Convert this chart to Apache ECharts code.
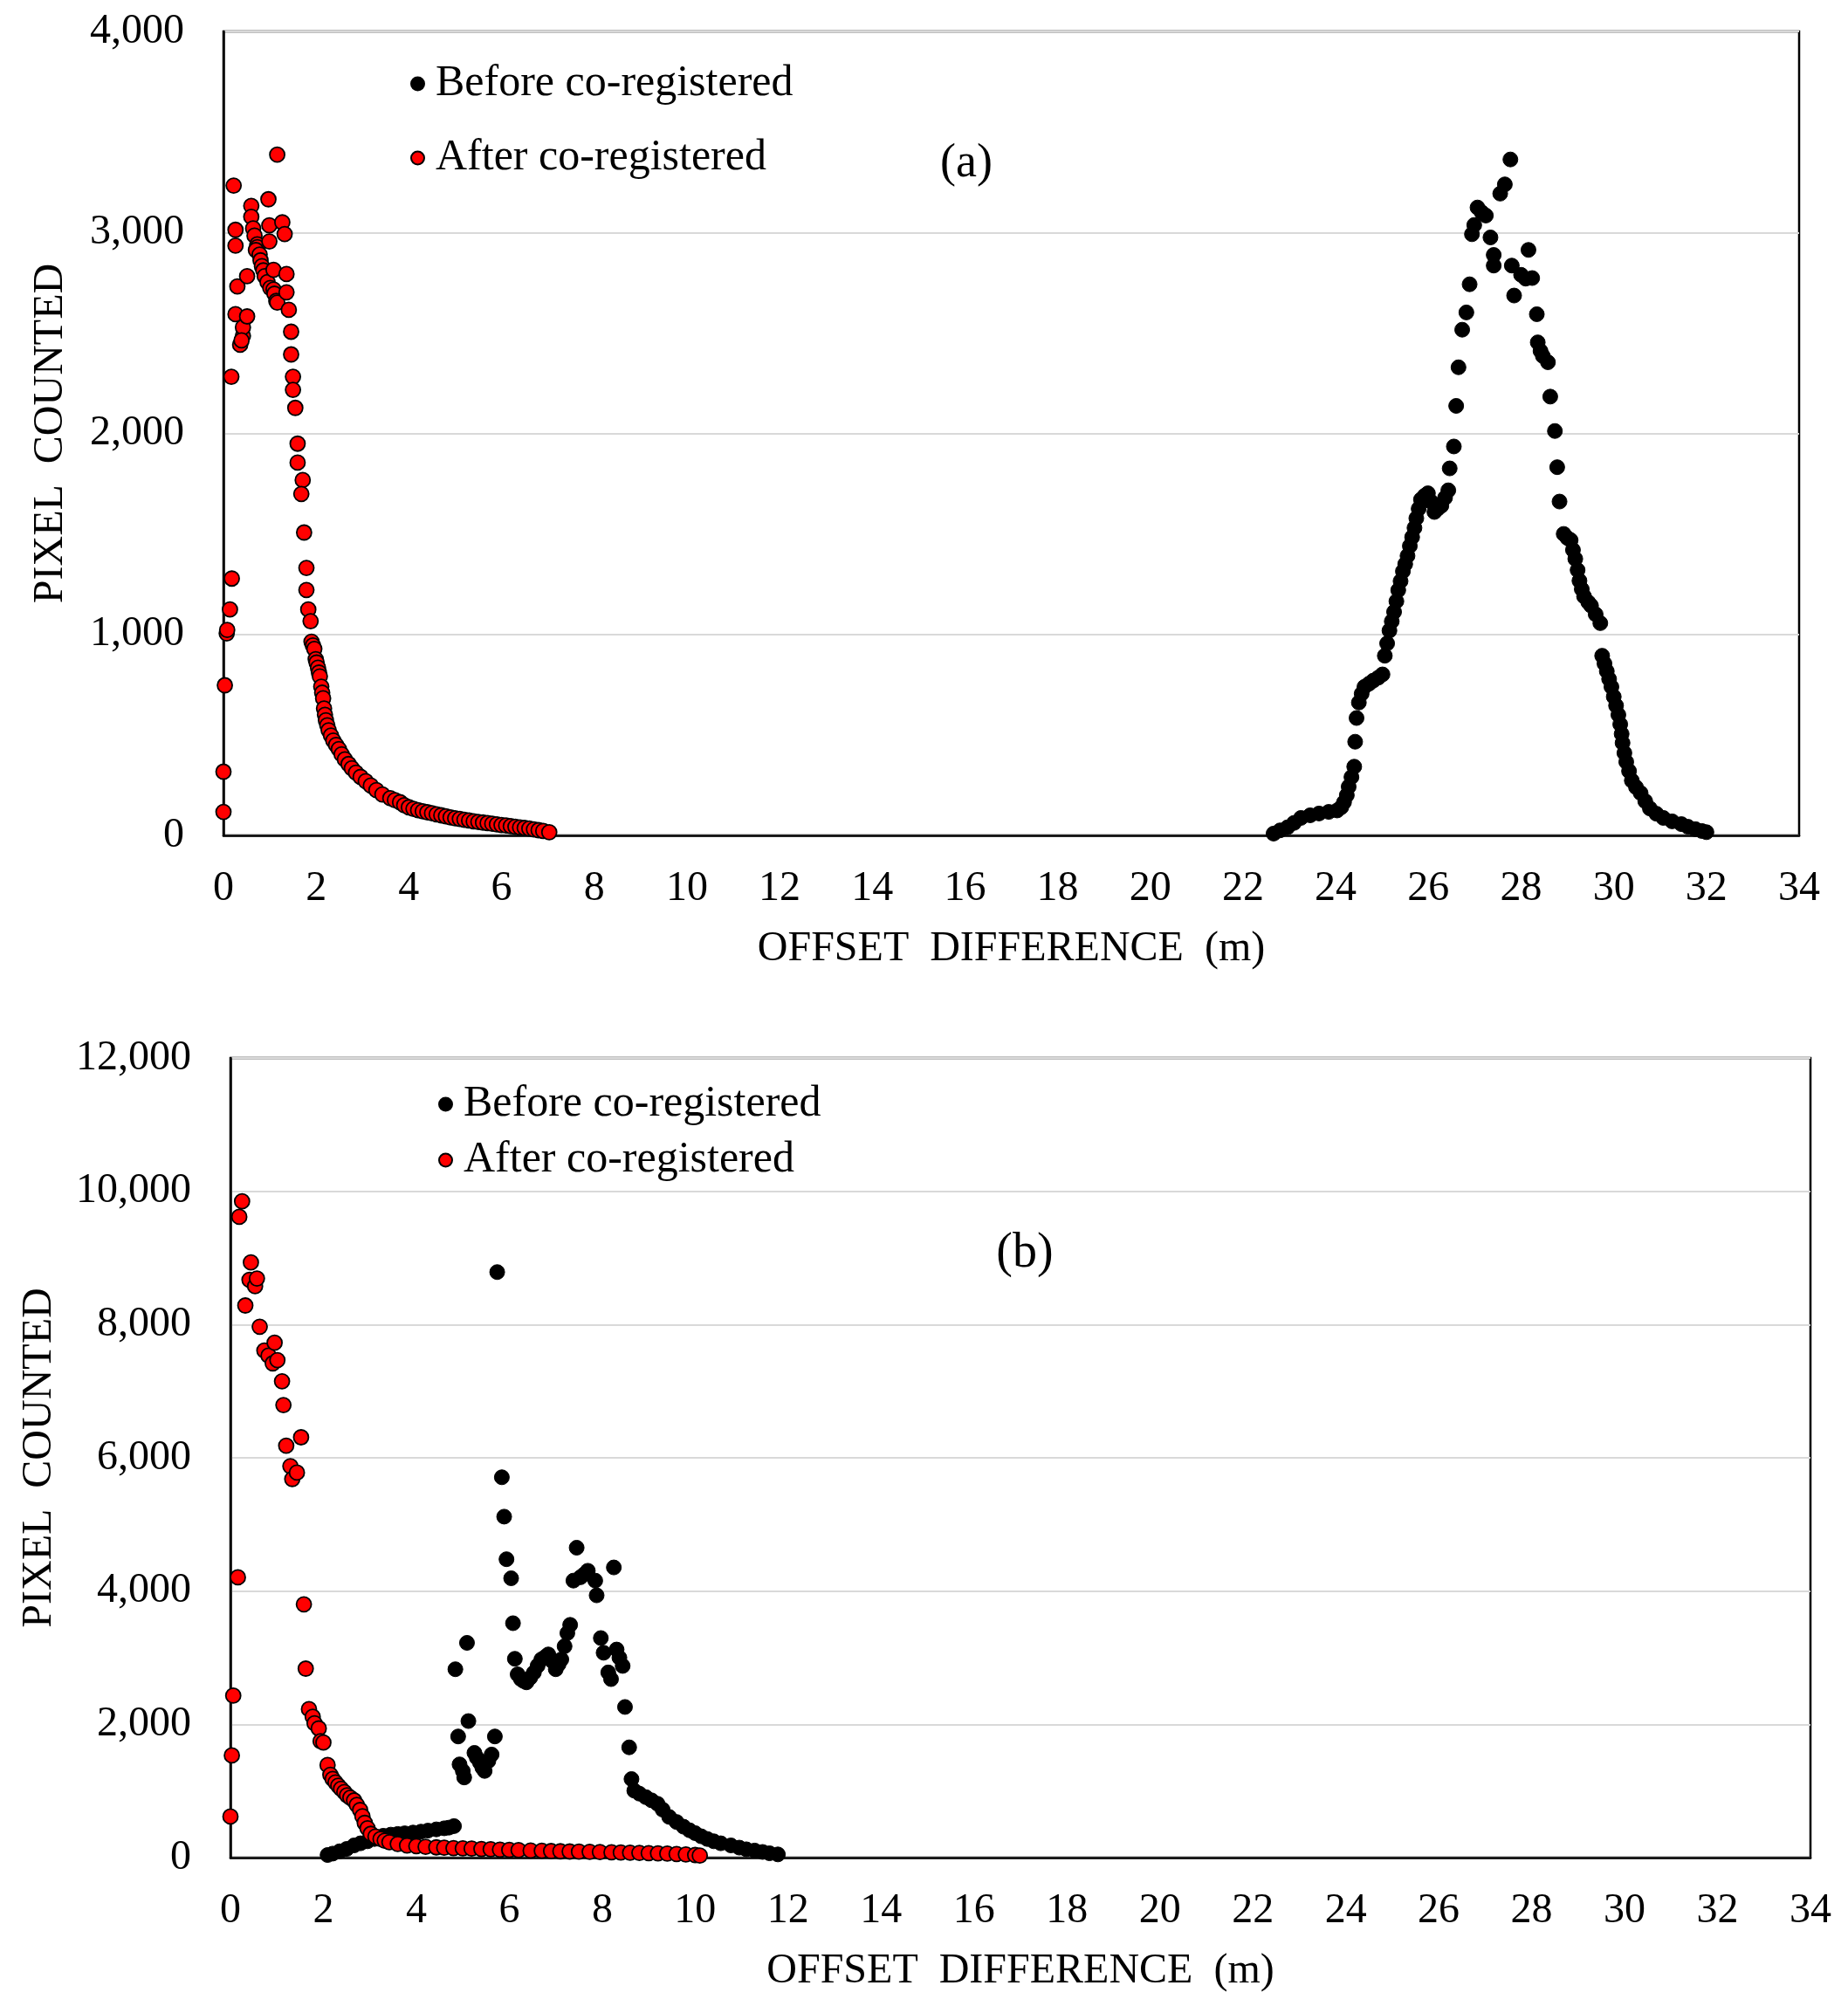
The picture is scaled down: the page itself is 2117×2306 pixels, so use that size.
<!DOCTYPE html>
<html>
<head>
<meta charset="utf-8">
<script src="https://cdn.jsdelivr.net/npm/echarts@6/dist/echarts.min.js"></script>
<style>
  html, body { margin: 0; padding: 0; background: #fff; }
  #chart { width: 2117px; height: 2306px; }
</style>
</head>
<body>
<div id="chart"></div>
<script>
// values, [offset difference (m), pixel count]
var seriesNames = ['Before co-registered', 'After co-registered'];
var xTicks = { min: 0, max: 34, interval: 2 };

// (a) before co-registration
var topBefore = [
  [22.66,9],[22.8,25],[22.96,40],[23.1,62],[23.25,87],[23.45,100],[23.64,109],[23.85,117],[24.03,124],[24.12,140],
  [24.18,165],[24.24,200],[24.28,242],[24.34,290],[24.40,342],[24.42,466],[24.45,584],[24.50,661],[24.56,705],[24.62,739],
  [24.72,755],[24.81,770],[24.92,785],[25.01,801],[25.06,894],[25.11,955],[25.16,1019],[25.21,1065],[25.26,1112],[25.31,1165],
  [25.35,1220],[25.40,1265],[25.45,1314],[25.50,1350],[25.55,1391],[25.60,1440],[25.65,1484],[25.70,1530],[25.74,1578],[25.79,1625],
  [25.84,1671],[25.92,1690],[25.99,1702],[26.06,1660],[26.13,1609],[26.2,1625],[26.28,1640],[26.36,1680],[26.43,1717],[26.46,1826],
  [26.55,1935],[26.60,2137],[26.65,2329],[26.73,2516],[26.82,2602],[26.89,2742],[26.94,2991],[26.99,3037],[27.06,3124],[27.15,3100],
  [27.24,3084],[27.34,2975],[27.41,2888],[27.41,2835],[27.55,3193],[27.65,3239],[27.77,3363],[27.80,2835],[27.85,2686],[28.00,2789],
  [28.10,2770],[28.16,2913],[28.24,2773],[28.34,2593],[28.36,2453],[28.42,2410],[28.47,2385],[28.58,2354],[28.63,2183],[28.73,2012],
  [28.78,1832],[28.83,1661],[28.92,1500],[29.0,1480],[29.07,1469],[29.12,1420],[29.17,1376],[29.22,1320],[29.26,1267],[29.31,1225],
  [29.36,1189],[29.45,1160],[29.51,1143],[29.61,1100],[29.71,1056],[29.75,894],[29.80,855],[29.85,817],[29.90,778],[29.95,739],
  [30.0,690],[30.05,646],[30.10,600],[30.14,553],[30.17,505],[30.19,460],[30.23,410],[30.27,366],[30.33,320],[30.39,273],
  [30.48,240],[30.58,211],[30.68,170],[30.78,134],[30.92,108],[31.07,87],[31.26,70],[31.46,56],[31.6,43],[31.76,31],
  [31.9,22],[32.0,16]
];

// (a) after co-registration
var topAfter = [
  [0.00,117],[0.00,317],[0.03,747],[0.07,1005],[0.08,1022],[0.14,1124],[0.18,1278],[0.17,2282],[0.22,3233],[0.26,3013],
  [0.26,2934],[0.26,2593],[0.30,2731],[0.36,2441],[0.42,2485],[0.42,2528],[0.39,2463],[0.51,2582],[0.51,2782],[0.60,3132],
  [0.60,3078],[0.64,3020],[0.67,2984],[0.73,2941],[0.73,2927],[0.70,2912],[0.78,2890],[0.80,2861],[0.83,2832],[0.86,2811],
  [0.89,2782],[0.95,2753],[0.97,3165],[0.99,3035],[0.99,2955],[1.01,2724],[1.08,2814],[1.08,2716],[1.10,2695],[1.14,2659],
  [1.16,3387],[1.16,2651],[1.27,3050],[1.32,2992],[1.36,2793],[1.36,2702],[1.41,2615],[1.46,2506],[1.46,2393],[1.50,2282],
  [1.50,2217],[1.55,2127],[1.60,1949],[1.60,1855],[1.71,1768],[1.68,1699],[1.74,1507],[1.79,1331],[1.79,1221],[1.83,1124],
  [1.88,1066],[1.90,964],[1.93,945],[1.96,928],[1.99,877],[2.01,860],[2.04,834],[2.06,810],[2.08,791],[2.11,740],
  [2.13,710],[2.15,682],[2.17,631],[2.19,600],[2.21,573],[2.24,548],[2.27,523],[2.32,497],[2.37,472],[2.43,450],
  [2.49,429],[2.55,403],[2.62,378],[2.70,355],[2.77,334],[2.86,312],[2.96,291],[3.07,270],[3.18,248],[3.30,225],
  [3.43,204],[3.60,185],[3.7,175],[3.81,165],[3.9,150],[4.0,140],[4.1,132],[4.2,125],[4.3,120],[4.4,115],
  [4.5,110],[4.6,105],[4.7,100],[4.8,95],[4.9,90],[5.0,85],[5.1,82],[5.2,78],[5.3,74],[5.4,70],
  [5.5,67],[5.6,64],[5.7,61],[5.8,58],[5.9,55],[6.0,52],[6.1,49],[6.2,46],[6.3,43],[6.4,40],
  [6.5,37],[6.6,34],[6.7,30],[6.8,26],[6.9,22],[7.03,16]
];

// (b) before co-registration
var bottomBefore = [
  [2.09,39],[2.2,60],[2.35,95],[2.5,130],[2.66,183],[2.8,215],[2.95,245],[3.1,280],[3.29,328],[3.45,345],
  [3.6,355],[3.75,365],[3.93,376],[4.1,390],[4.25,405],[4.43,424],[4.6,440],[4.7,450],[4.81,473],
  [4.84,2827],[5.09,3223],[5.12,2049],[4.90,1818],[4.93,1399],[5.03,1203],[5.0,1300],[5.25,1572],[5.30,1500],[5.37,1424],
  [5.47,1301],[5.42,1350],[5.62,1547],[5.69,1818],[5.55,1450],
  [5.74,8787],[5.84,5708],[5.89,5117],[5.94,4478],[6.04,4192],[6.08,3518],[6.12,2984],[6.18,2750],[6.25,2679],[6.31,2650],
  [6.37,2630],[6.45,2700],[6.53,2777],[6.61,2880],[6.69,2974],[6.77,3010],[6.84,3049],[6.92,2950],[7.00,2827],[7.06,2900],
  [7.12,2974],[7.19,3172],[7.25,3370],[7.31,3493],[7.38,4157],[7.45,4651],[7.53,4207],[7.61,4250],[7.69,4305],[7.85,4157],
  [7.88,3936],[7.97,3295],[8.03,3074],[8.13,2779],[8.19,2679],[8.25,4355],[8.31,3123],[8.37,3000],[8.44,2877],[8.49,2261],
  [8.58,1655],[8.63,1179],[8.69,1005],[8.8,960],[8.94,907],[9.06,860],[9.19,808],[9.3,720],[9.44,611],[9.6,535],
  [9.75,464],[9.88,410],[10.0,367],[10.13,320],[10.26,280],[10.4,245],[10.55,215],[10.77,183],[10.95,150],[11.1,125],
  [11.28,106],[11.45,85],[11.6,65],[11.78,48]
];

// (b) after co-registration
var bottomAfter = [
  [0.0,617],[0.03,1534],[0.06,2431],[0.16,4206],[0.19,9617],[0.25,9849],[0.32,8286],[0.41,8672],[0.44,8932],[0.53,8575],
  [0.57,8691],[0.63,7968],[0.73,7611],[0.82,7534],[0.91,7418],[0.95,7727],[1.01,7466],[1.11,7148],[1.14,6791],[1.20,6183],
  [1.29,5875],[1.33,5682],[1.43,5778],[1.52,6308],[1.58,3801],[1.62,2836],[1.69,2228],[1.77,2113],[1.81,2016],[1.90,1939],
  [1.94,1746],[2.00,1727],[2.09,1389],[2.15,1244],[2.20,1180],[2.26,1129],[2.32,1080],[2.38,1032],[2.45,985],[2.51,936],
  [2.58,900],[2.66,858],[2.72,790],[2.79,714],[2.84,620],[2.89,521],[2.95,440],[3.02,357],[3.12,315],[3.23,280],
  [3.32,255],[3.42,232],[3.6,205],[3.80,183],[4.0,172],[4.2,162],[4.43,154],[4.6,148],[4.8,142],[5.0,138],
  [5.19,135],[5.4,130],[5.6,125],[5.8,120],[6.0,116],[6.2,112],[6.46,106],[6.7,102],[6.9,98],[7.1,95],
  [7.3,92],[7.5,89],[7.73,87],[7.95,84],[8.2,80],[8.4,77],[8.6,74],[8.8,71],[9.0,68],[9.2,64],
  [9.4,60],[9.6,55],[9.8,48],[10.0,39],[10.1,30]
];

var FONT = 'Liberation Serif';
var chart = echarts.init(document.getElementById('chart'));

function xAxisOpt(gridIndex) {
  return {
    gridIndex: gridIndex,
    type: 'value',
    min: xTicks.min,
    max: xTicks.max,
    interval: xTicks.interval,
    name: 'OFFSET  DIFFERENCE  (m)',
    nameLocation: 'middle',
    nameGap: 106,
    nameTextStyle: { fontFamily: FONT, fontSize: 48, color: '#000' },
    axisLine: { show: true, lineStyle: { color: '#000', width: 2.5 } },
    axisTick: { show: false },
    splitLine: { show: false },
    axisLabel: { fontFamily: FONT, fontSize: 48, color: '#000', margin: 37 }
  };
}

function yAxisOpt(gridIndex, max, interval, gap) {
  return {
    gridIndex: gridIndex,
    type: 'value',
    min: 0,
    max: max,
    interval: interval,
    name: 'PIXEL  COUNTED',
    nameLocation: 'middle',
    nameGap: gap,
    nameTextStyle: { fontFamily: FONT, fontSize: 48, color: '#000' },
    axisLine: { show: true, lineStyle: { color: '#000', width: 2.5 } },
    axisTick: { show: false },
    splitLine: { show: true, lineStyle: { color: '#d9d9d9', width: 2 } },
    axisLabel: {
      fontFamily: FONT, fontSize: 48, color: '#000', margin: 45,
      formatter: function (v) { return v.toLocaleString('en-US'); }
    }
  };
}

function scatter(name, idx, data, isAfter) {
  return {
    name: name,
    type: 'scatter',
    xAxisIndex: idx,
    yAxisIndex: idx,
    data: data,
    symbol: 'circle',
    symbolSize: 17,
    itemStyle: isAfter
      ? { color: '#ff0000', borderColor: '#000', borderWidth: 1.8, opacity: 1 }
      : { color: '#000', borderColor: '#000', borderWidth: 1, opacity: 1 },
    emphasis: { disabled: true },
    z: isAfter ? 3 : 2,
    animation: false
  };
}

var legendText = { fontFamily: FONT, fontSize: 50, color: '#000', lineHeight: 50, padding: [0, 0, 0, 8] };

var option = {
  backgroundColor: '#fff',
  animation: false,
  grid: [
    { left: 256, top: 36, width: 1805, height: 921, show: true, borderColor: '#000', borderWidth: 2.5 },
    { left: 264, top: 1212, width: 1810, height: 916, show: true, borderColor: '#000', borderWidth: 2.5 }
  ],
  legend: [
    {
      data: seriesNames, orient: 'vertical', left: 465, top: 66, itemGap: 35,
      icon: 'circle', itemWidth: 15, itemHeight: 15, textStyle: legendText, selectedMode: false
    },
    {
      data: seriesNames, orient: 'vertical', left: 497, top: 1235, itemGap: 14,
      icon: 'circle', itemWidth: 15, itemHeight: 15, textStyle: legendText, selectedMode: false
    }
  ],
  graphic: [
    { type: 'text', x: 1107, y: 188, style: { text: '(a)', font: '54px "Liberation Serif"', fill: '#000', textAlign: 'center', textVerticalAlign: 'middle' } },
    { type: 'text', x: 1174, y: 1436, style: { text: '(b)', font: '56px "Liberation Serif"', fill: '#000', textAlign: 'center', textVerticalAlign: 'middle' } }
  ],
  xAxis: [xAxisOpt(0), xAxisOpt(1)],
  yAxis: [yAxisOpt(0, 4000, 1000, 174), yAxisOpt(1, 12000, 2000, 195)],
  series: [
    scatter(seriesNames[0], 0, topBefore, false),
    scatter(seriesNames[1], 0, topAfter, true),
    scatter(seriesNames[0], 1, bottomBefore, false),
    scatter(seriesNames[1], 1, bottomAfter, true)
  ]
};

chart.setOption(option);
</script>
</body>
</html>
